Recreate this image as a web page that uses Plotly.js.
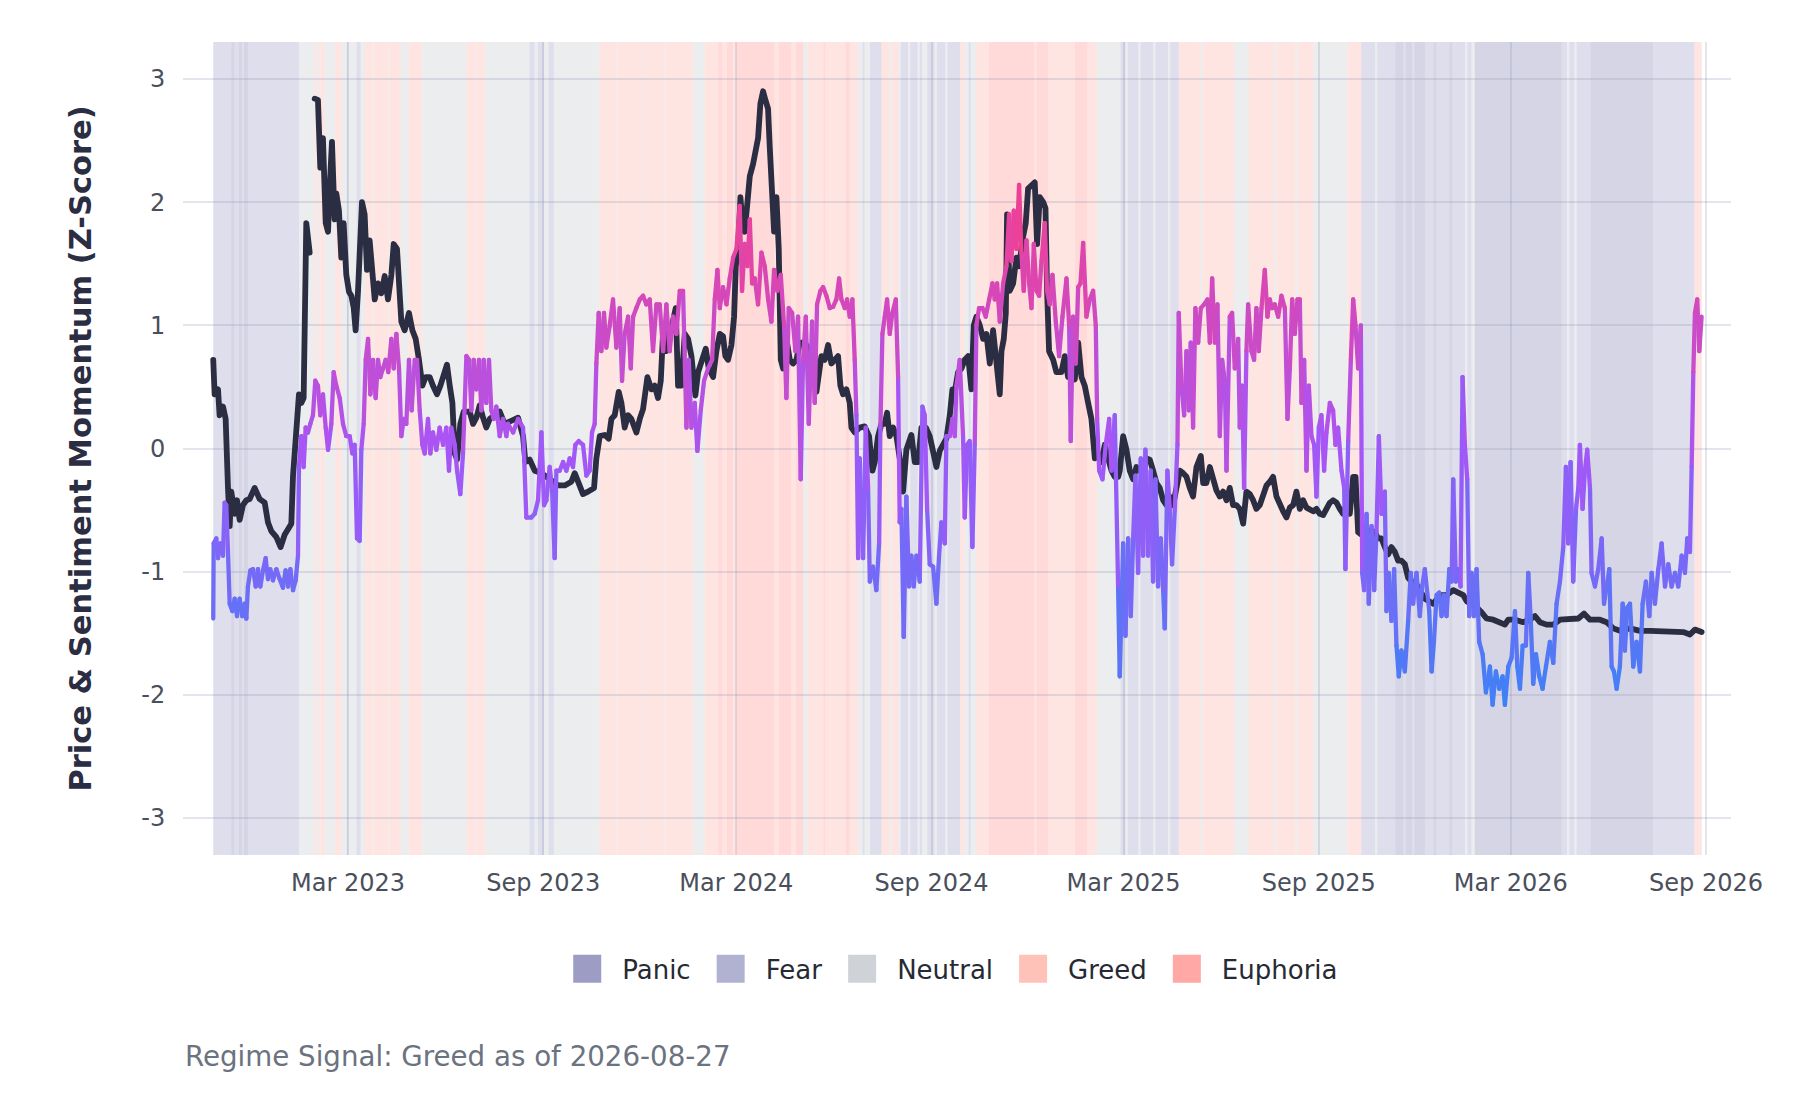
<!DOCTYPE html>
<html>
<head>
<meta charset="utf-8">
<script src="https://cdn.plot.ly/plotly-3.0.1.min.js"></script>
<style>
  html, body { margin: 0; padding: 0; background: #fff; }
  #chart { width: 1800px; height: 1100px; }
  .scatterlayer .js-line { stroke-linecap: round; stroke-linejoin: round; }
</style>
</head>
<body>
<div id="chart"></div>
<script>
// day offsets are counted from 2022-10-25 (first observation)
const START = Date.UTC(2022, 9, 25);

// price momentum (z-score), null = missing stretch
const priceDay = [0,1.3,4.5,6.0,9.2,11.7,13.9,15.5,17.0,20.2,22.4,24.9,28.0,31.2,34.3,39.0,43.7,48.5,51.6,54.7,59.5,63.5,67.3,70.5,73.6,75.2,78.3,80.8,83.0,85.2,87.7,90.9,93,
  95.6,98.7,100.9,103.4,106.0,108.2,109.7,111.9,114.4,116.0,118.5,120.7,122.9,125.4,128.0,130.2,132.4,134.2,136.4,138.0,140.2,142.7,144.9,147.4,150.0,152.2,155.3,158.4,161.6,164.7,167.9,170.1,173.2,175.1,177.3,180.4,184.5,187.7,190.8,193.9,197.1,200.2,204.0,207.1,210.9,214.1,217.2,220.3,222.9,225.4,227.6,229.8,232.9,236.1,241.7,244.9,248.0,251.1,254.3,257.4,260.6,265.3,270.0,274.7,
  279.4,287.3,292.0,294.2,298.3,303.0,309.3,314.0,318.7,325.0,331.3,337.5,340.7,344.5,348.5,353.3,358.9,361.1,364.3,369.0,372.7,375.3,378.4,382.2,384.7,387.8,391.0,394.1,398.8,402.0,405.1,409.2,413.0,416.1,419.2,421.8,424.3,427.1,430.2,433.4,435.9,438.1,441.2,444.4,447.5,450.7,454.4,457.0,460.7,464.2,467.0,471.1,474.2,477.4,480.5,482.7,485.2,488.4,490.9,492.5,494.7,496.9,498.7,500.9,503.5,505.7,508.8,511.0,513.5,515.7,518.2,520.4,522.9,524.5,526.1,528.6,530.8,533.0,534.9,537.1,540.2,543.4,546.5,549.7,552.8,557.5,562.2,566.9,
  568.5,573.2,576.3,579.5,582.6,585.8,588.9,591.1,593.6,596.8,599.9,601.5,604.6,609.3,614.0,618.1,621.3,623.5,626.6,629.8,632.9,635.1,637.6,640.8,643.9,647.0,650.2,653.3,658.0,661.2,664.3,667.5,671.6,675.3,678.5,681.6,684.7,687.9,691.0,694.2,696.7,698.9,702.0,705.2,708.3,711.5,714.6,716.8,719.3,722.5,725.6,728.7,731.9,735.0,738.2,741.3,742.9,745.1,747.0,748.2,750.7,753.9,757.0,759.5,763.3,765.8,768.0,771.2,774.3,776.5,779.0,782.2,784.4,785.9,787.8,791.6,794.7,799.4,802.6,805.7,808.9,812.0,815.2,818.3,821.4,824.6,827.7,830.9,834.0,837.2,840.3,843.4,846.6,849.7,852.9,
  854.4,857.6,860.7,863.8,867.0,870.1,873.3,876.4,879.6,882.7,885.8,889.0,892.1,895.3,898.4,901.5,904.7,907.8,911.0,914.1,917.3,920.4,923.5,926.7,930.8,933.0,936.1,939.3,942.4,945.5,948.7,951.8,955.0,958.1,961.2,964.4,967.5,970.7,973.8,977.0,980.1,983.2,986.4,989.5,992.7,995.8,998.9,1002.1,1005.2,1008.4,1011.5,1014.7,1017.8,1020.9,1024.1,1027.2,1030.4,1033.5,1036.7,1039.8,1042.9,1046.1,1049.2,1052.4,1055.5,1058.7,1061.8,1064.9,1068.1,1071.2,1074.4,1076.6,1079.1,1082.2,1085.4,1088.5,1091.7,1094.8,1097.9,1101.1,1104.2,1107.4,1110.5,1113.7,1116.8,1119.9,1123.1,1126.2,1129.4,1132.5,1137.2,
  1142.0,1149.9,1156.2,1162.4,1168.7,1173.4,1178.2,1181.3,1186.0,1190.7,1195.4,1200.1,1206.4,1212.7,1217.4,1220.6,1226.9,1234.7,1241.0,1245.7,1250.4,1256.7,1263.0,1269.3,1278.7,1286.6,1291.9,1297.6,1307.0,1313.3,1319.6,1325.8,1335.3,1344.7,1354.1,1363.5,1371.4,1379.3,1385.5,1391.8,1396.5,1402.8];
const priceVal = [0.72,0.44,0.48,0.27,0.34,0.24,-0.32,-0.63,-0.35,-0.53,-0.42,-0.58,-0.46,-0.42,-0.41,-0.32,-0.41,-0.44,-0.60,-0.67,-0.72,-0.80,-0.70,-0.65,-0.61,-0.22,0.20,0.44,0.37,0.41,1.83,1.59,null,
  2.84,2.83,2.28,2.52,1.83,1.76,2.11,2.49,1.86,2.07,1.93,1.55,1.83,1.41,1.27,1.24,1.14,0.96,1.27,1.55,2.00,1.90,1.45,1.69,1.41,1.21,1.34,1.26,1.40,1.21,1.41,1.66,1.62,1.34,1.03,0.96,1.10,0.96,0.89,0.72,0.51,0.58,0.58,0.51,0.44,0.51,0.58,0.68,0.51,0.37,-0.04,-0.09,0.20,0.30,0.30,0.20,0.25,0.35,0.25,0.17,0.24,0.27,0.30,0.20,
  0.22,0.25,0.10,-0.11,-0.09,-0.18,-0.20,-0.23,-0.25,-0.30,-0.30,-0.27,-0.20,-0.28,-0.37,-0.35,-0.32,-0.08,0.10,0.11,0.08,0.24,0.27,0.46,0.37,0.17,0.27,0.24,0.13,0.24,0.32,0.58,0.48,0.51,0.41,0.55,1.00,0.79,0.93,1.07,1.14,0.51,0.51,0.93,0.89,0.75,0.43,0.62,0.72,0.81,0.65,0.58,0.79,0.93,0.91,0.75,0.72,0.84,1.07,1.48,1.62,2.04,1.83,1.76,2.00,2.21,2.31,2.42,2.52,2.80,2.90,2.83,2.76,2.45,2.07,1.76,2.04,1.62,0.72,0.65,0.89,0.72,0.69,0.72,0.86,0.86,0.79,0.75,
  0.46,0.75,0.72,0.84,0.69,0.72,0.75,0.51,0.44,0.48,0.37,0.17,0.13,0.17,0.18,0.10,-0.18,-0.11,0.10,0.20,0.20,0.29,0.10,0.17,0.10,-0.08,-0.35,-0.01,0.11,-0.11,-0.11,0.17,0.17,0.10,-0.01,-0.15,-0.02,0.03,0.08,0.27,0.48,0.46,0.62,0.65,0.72,0.75,0.48,1.00,1.07,1.00,0.89,0.93,0.69,0.96,0.65,0.44,0.79,0.89,1.10,1.90,1.28,1.34,1.55,1.48,1.72,1.83,2.11,2.14,2.16,1.66,2.04,2.00,1.95,1.28,0.79,0.72,0.62,0.62,0.75,0.58,0.65,0.56,0.86,0.58,0.51,0.37,0.24,-0.08,-0.04,-0.11,0.03,-0.08,-0.18,-0.23,-0.23,
  -0.18,0.10,-0.01,-0.18,-0.25,-0.15,-0.18,-0.18,-0.08,-0.09,-0.18,-0.28,-0.32,-0.42,-0.46,-0.39,-0.46,-0.32,-0.18,-0.20,-0.23,-0.32,-0.39,-0.15,-0.06,-0.28,-0.28,-0.15,-0.25,-0.34,-0.39,-0.35,-0.42,-0.32,-0.46,-0.46,-0.49,-0.61,-0.35,-0.37,-0.42,-0.49,-0.46,-0.39,-0.30,-0.27,-0.23,-0.39,-0.46,-0.51,-0.56,-0.48,-0.46,-0.35,-0.49,-0.42,-0.48,-0.49,-0.51,-0.49,-0.53,-0.54,-0.49,-0.44,-0.42,-0.44,-0.49,-0.53,-0.46,-0.53,-0.23,-0.23,-0.68,-0.70,-0.70,-0.67,-0.67,-0.68,-0.73,-0.73,-0.80,-0.86,-0.80,-0.84,-0.91,-0.91,-0.94,-1.05,-1.08,-1.08,-1.15,
  -1.22,-1.26,-1.19,-1.19,-1.15,-1.17,-1.19,-1.24,-1.26,-1.29,-1.33,-1.38,-1.39,-1.41,-1.43,-1.39,-1.39,-1.41,-1.39,-1.36,-1.41,-1.43,-1.43,-1.39,-1.38,-1.38,-1.34,-1.39,-1.39,-1.41,-1.46,-1.48,-1.46,-1.48,-1.48,-1.48,-1.49,-1.49,-1.49,-1.51,-1.47,-1.49];

// sentiment momentum (z-score)
const sentDay = [0.0,0.4,2.9,4.5,6.7,9.2,10.7,12.3,13.9,15.5,18.0,20.2,22.4,24.9,27.4,29.6,31.2,32.7,35.0,37.5,40.0,42.2,44.4,46.9,49.4,51.6,53.8,56.3,59.5,62.6,65.7,68.2,70.5,72.7,75.2,77.7,79.9,80.8,83.0,85.2,87.1,89.3,91.5,94.0,96.2,98.7,100.9,103.4,106.0,108.2,111.3,113.5,116.0,119.2,122.3,125.4,128.6,131.1,133.3,135.5,138.0,139.6,141.8,143.7,145.9,148.1,150.6,153.1,155.3,157.5,160.0,162.5,165.0,167.9,170.1,172.6,175.1,177.3,179.5,182.0,184.5,187.0,189.9,192.1,194.6,197.1,199.3,202.4,204.6,207.1,210.3,213.4,216.6,219.7,222.2,224.4,227.6,229.8,232.9,235.4,238.6,241.1,243.3,245.5,248.0,250.5,252.7,254.9,257.4,259.9,262.1,264.3,266.8,270.0,273.1,276.3,
  277.8,282.6,287.3,292.0,295.1,299.8,303.0,306.1,309.3,311.8,314.0,317.1,319.3,321.8,323.4,326.5,329.7,332.8,336.0,339.1,341.3,344.5,348.5,351.7,354.8,357.0,359.5,361.1,363.3,365.8,368.3,370.5,373.7,376.8,380.0,383.1,385.3,387.8,391.0,393.5,395.7,398.8,402.0,405.1,408.2,411.4,414.5,417.7,420.8,424.0,427.1,430.2,433.4,436.5,439.7,442.8,446.0,448.2,450.7,453.8,456.3,459.5,462.6,466.4,470.2,472.7,475.2,477.4,480.5,483.7,486.8,490.0,493.1,496.2,498.4,500.9,503.5,505.7,507.9,510.4,513.5,516.7,519.8,523.0,526.1,528.6,531.7,534.9,538.0,540.2,542.4,545.6,548.7,551.2,553.7,555.9,558.5,561.3,564.4,
  566.9,569.1,572.3,574.8,577.9,581.1,584.2,587.3,589.9,592.1,595.2,597.4,599.9,602.4,604.6,606.2,607.8,609.3,612.5,615.0,617.2,618.8,621.9,625.0,627.6,628.8,630.7,632.9,635.1,637.6,640.1,643.3,645.5,647.0,648.6,650.8,653.3,655.8,658.0,660.2,662.8,665.9,668.4,670.6,672.8,675.3,678.5,681.6,684.1,686.3,689.5,691.0,694.2,696.7,698.9,700.5,703.6,706.7,708.3,710.5,713.0,715.5,717.7,719.3,721.8,725.0,728.1,731.3,734.4,736.6,738.8,741.3,744.5,747.6,750.1,752.3,754.5,757.0,759.5,761.7,763.9,766.5,769.0,771.2,773.4,775.9,778.4,780.6,783.7,785.9,788.4,791.0,794.1,797.2,800.4,804.2,806.7,808.2,810.4,813.0,815.2,817.4,819.9,823.0,826.2,829.3,831.8,833.1,835.0,838.1,841.2,844.4,846.6,849.7,852.9,854.4,
  857.6,859.8,862.3,864.8,867.0,869.2,871.7,874.2,876.4,878.6,881.1,883.6,885.8,888.0,890.5,893.1,895.3,896.8,899.3,901.5,903.7,906.3,908.8,910.0,912.5,915.1,917.3,919.5,921.3,923.5,925.7,928.3,930.8,933.9,937.1,939.3,941.5,944.0,946.5,948.7,950.9,953.4,955.0,958.1,960.3,962.8,966.0,967.5,969.7,971.6,973.8,975.4,978.5,981.0,983.2,985.4,988.0,991.1,993.6,995.8,998.0,1000.5,1003.7,1006.8,1010.0,1012.5,1014.7,1016.9,1019.4,1021.9,1024.1,1025.7,1028.2,1030.4,1032.6,1035.1,1037.6,1039.8,1042.0,1044.5,1047.0,1049.2,1052.4,1055.5,1057.7,1060.2,1063.4,1065.9,1067.1,1069.7,1072.2,1074.4,1076.6,1079.1,1081.6,1082.9,1084.7,1087.0,1089.1,1091.7,1094.2,1096.4,1098.6,1101.1,1104.2,1105.8,1108.0,1110.5,1113.0,1115.2,1117.4,1119.9,1123.1,1126.2,1128.7,1130.9,1134.1,1137.2,1139.4,1141.9,
  1146.1,1148.3,1150.5,1153.0,1155.5,1157.7,1159.9,1162.4,1165.0,1167.2,1168.7,1171.2,1173.4,1175.6,1177.5,1179.7,1181.9,1183.8,1186.0,1188.2,1190.7,1193.2,1196.4,1199.5,1203.3,1205.8,1208.9,1212.1,1215.2,1217.4,1220.6,1223.7,1226.9,1229.1,1231.6,1234.1,1237.2,1239.4,1241.6,1244.1,1246.7,1249.8,1252.9,1256.1,1259.8,1263.0,1266.1,1269.3,1272.4,1274.9,1277.1,1279.3,1281.8,1284.4,1286.6,1288.1,1290.6,1292.8,1295.0,1297.6,1299.1,1302.3,1305.4,1308.6,1310.8,1313.3,1315.8,1318.0,1320.2,1322.7,1325.8,1328.4,1330.5,1332.8,1335.3,1338.4,1341.5,1344.7,1347.2,1350.3,1353.5,1355.7,1358.8,1362.0,1365.1,1368.3,1371.4,1374.5,1377.7,1380.8,1384.0,1387.1,1389.3,1391.8,1393.4,1395.0,1396.5,1398.7,1400.6,1402.8];
const sentVal = [-1.38,-0.77,-0.73,-0.89,-0.77,-0.87,-0.44,-0.46,-0.84,-1.26,-1.32,-1.22,-1.36,-1.22,-1.36,-1.26,-1.38,-1.12,-0.99,-0.98,-1.12,-0.98,-1.12,-0.99,-0.89,-1.06,-0.98,-1.07,-0.98,-1.06,-1.13,-0.99,-1.12,-0.98,-1.15,-1.07,-0.87,-0.15,0.10,-0.15,0.17,0.13,0.20,0.27,0.55,0.51,0.27,0.44,0.17,-0.01,0.20,0.62,0.51,0.41,0.20,0.10,0.10,-0.04,0.03,-0.73,-0.75,-0.01,0.20,0.72,0.89,0.44,0.72,0.41,0.72,0.58,0.65,0.72,0.62,0.89,0.65,0.93,0.65,0.10,0.24,0.20,0.72,0.31,0.72,0.72,0.31,0.03,-0.04,0.24,-0.04,0.13,-0.01,0.17,0.03,0.17,-0.18,0.17,0.03,-0.18,-0.37,-0.04,0.75,0.72,0.31,0.72,0.48,0.72,0.31,0.72,0.37,0.72,0.31,0.24,0.34,0.10,0.24,0.10,
  0.20,0.13,0.24,0.17,-0.56,-0.56,-0.53,-0.42,0.13,-0.46,-0.42,-0.15,-0.32,-0.89,-0.18,-0.18,-0.11,-0.18,-0.08,-0.15,0.03,0.06,0.03,-0.22,-0.18,0.13,0.20,0.69,1.10,0.79,1.10,0.82,1.00,1.21,0.82,1.14,0.55,0.93,1.07,0.65,1.07,1.14,1.21,1.24,1.17,1.21,0.79,1.17,1.17,0.79,1.17,0.79,1.07,0.93,1.28,1.28,0.17,0.72,0.17,0.37,-0.02,0.31,0.55,0.65,0.72,1.21,1.45,1.14,1.31,1.17,1.38,1.55,1.62,1.97,1.28,1.66,1.48,1.86,1.34,1.38,1.17,1.59,1.48,1.21,1.03,1.45,1.28,1.41,1.00,0.41,1.14,1.10,0.79,1.07,-0.25,0.72,1.07,0.20,1.03,
  0.37,1.17,1.28,1.31,1.24,1.14,1.15,1.21,1.38,1.21,1.14,1.21,1.07,1.21,0.72,0.27,-0.89,-0.08,-0.89,0.17,-0.32,-1.08,-0.96,-1.15,-0.77,0.17,0.93,1.07,1.21,0.93,1.10,1.21,0.58,-0.60,-0.49,-1.53,-0.39,-1.12,-0.87,-1.12,-0.87,-1.08,0.34,0.27,-0.49,-0.94,-0.96,-1.26,-0.87,-0.60,-0.77,0.10,0.10,0.24,0.10,0.51,0.72,0.10,-0.56,0.03,0.06,-0.80,0.03,1.00,1.14,1.14,1.07,1.21,1.34,1.21,1.34,1.03,1.34,1.48,1.90,1.52,1.93,1.62,2.14,1.59,1.28,1.69,1.34,1.14,1.66,1.28,1.24,1.52,1.83,1.28,1.17,1.41,1.03,0.75,1.07,1.38,1.00,0.06,1.07,0.69,1.31,1.34,1.67,1.07,1.21,1.28,1.00,0.24,-0.18,-0.25,0.03,0.24,-0.18,0.27,-1.15,-1.85,
  -0.77,-1.52,-0.73,-1.36,-0.73,-0.22,-1.01,-0.08,-0.87,-0.01,-0.87,-0.18,-1.08,-0.25,-1.12,-0.73,-1.15,-1.46,-0.18,-0.49,-0.94,-0.49,0.03,1.10,0.51,0.27,0.79,0.31,0.86,0.17,1.14,0.86,1.14,1.17,1.21,0.86,1.38,0.86,1.17,0.10,0.72,0.55,-0.18,1.07,1.10,0.65,0.89,0.17,0.51,-0.32,0.79,1.17,0.79,0.72,1.14,0.79,1.14,1.45,1.07,1.21,1.14,1.17,1.07,1.24,1.14,0.24,0.65,1.21,0.93,1.21,1.21,0.37,0.72,-0.18,0.51,0.10,0.03,-0.39,0.17,0.27,-0.18,0.13,0.37,0.31,0.03,0.17,-0.18,-0.32,-0.98,0.06,0.72,1.21,1.00,0.65,1.00,-1.01,-1.15,-0.53,-1.26,-0.63,-1.15,-0.67,0.10,-0.53,-0.35,-1.32,-1.01,-1.40,-0.98,-1.60,-1.85,-1.64,-1.81,-1.40,-1.01,-1.26,-1.01,-1.36,-1.12,-0.98,
  -1.32,-1.81,-1.57,-1.19,-1.17,-1.36,-1.19,-1.36,-0.98,-1.08,-0.25,-1.08,-0.98,-1.12,0.58,0.03,-0.25,-1.36,-1.01,-1.36,-0.98,-1.57,-1.67,-1.98,-1.77,-2.08,-1.81,-1.95,-1.85,-2.08,-1.77,-1.70,-1.32,-1.77,-1.95,-1.60,-1.60,-1.01,-1.36,-1.91,-1.67,-1.85,-1.95,-1.77,-1.57,-1.74,-1.26,-1.08,-0.80,-0.15,-0.77,-0.11,-1.08,-0.49,-0.32,0.03,-0.49,-0.18,-0.01,-0.32,-1.01,-1.12,-0.98,-0.73,-1.26,-1.12,-0.98,-1.77,-1.81,-1.95,-1.77,-1.26,-1.64,-1.29,-1.26,-1.77,-1.57,-1.81,-1.26,-1.08,-1.36,-1.01,-1.26,-0.98,-0.77,-1.12,-0.94,-1.12,-1.01,-1.12,-0.87,-1.01,-0.73,-0.84,-0.15,0.62,1.10,1.21,0.79,1.07];

// regime shading: edges (days) and the regime of each stretch between them
const regimeNames = ["Panic", "Fear", "Neutral", "Greed", "Euphoria"];
const regimeColors = ["#9c9cc4", "#b1b1d2", "#cfd3d8", "#ffc2b8", "#ffa8a5"];
const regEdges = [0,17,20,24,27,29,33,81,96,99,101,105,115,121,126,127,135,139,143,150,151,165,166,177,184,197,239,247,248,256,298,303,306,312,316,321,364,380,381,405,406,425,426,452,463,476,480,484,490,493,529,533,545,549,556,560,575,577,596,600,608,612,614,619,630,637,639,646,648,655,657,664,666,668,673,680,682,690,692,704,708,712,714,719,731,774,776,787,812,824,833,855,860,862,872,874,886,888,900,902,910,930,932,962,976,1000,1002,1020,1022,1037,1069,1082,1095,1097,1114,1122,1124,1130,1132,1142,1150,1153,1165,1168,1180,1182,1186,1189,1271,1276,1278,1283,1285,1298,1357,1396,1403];
const regType = ["Fear","Panic","Fear","Panic","Fear","Panic","Fear","Neutral","Greed","Neutral","Greed","Neutral","Greed","Neutral","Fear","Neutral","Fear","Neutral","Greed","Neutral","Greed","Neutral","Greed","Neutral","Greed","Neutral","Greed","Neutral","Greed","Neutral","Fear","Neutral","Fear","Neutral","Fear","Neutral","Greed","Neutral","Greed","Neutral","Greed","Neutral","Greed","Neutral","Greed","Euphoria","Greed","Euphoria","Greed","Euphoria","Greed","Euphoria","Greed","Euphoria","Neutral","Greed","Euphoria","Greed","Euphoria","Greed","Neutral","Fear","Neutral","Fear","Greed","Neutral","Greed","Neutral","Fear","Neutral","Fear","Neutral","Fear","Neutral","Fear","Neutral","Fear","Neutral","Fear","Greed","Neutral","Fear","Neutral","Greed","Euphoria","Greed","Euphoria","Greed","Euphoria","Greed","Neutral","Fear","Neutral","Fear","Neutral","Fear","Neutral","Fear","Neutral","Fear","Greed","Neutral","Greed","Neutral","Greed","Neutral","Greed","Neutral","Greed","Neutral","Greed","Fear","Neutral","Fear","Panic","Fear","Panic","Fear","Panic","Fear","Panic","Fear","Panic","Fear","Neutral","Fear","Neutral","Panic","Fear","Neutral","Fear","Neutral","Fear","Panic","Fear","Greed"];

const yTickVals = [-3, -2, -1, 0, 1, 2, 3];
const yTickText = ["-3", "-2", "-1", "0", "1", "2", "3"];
const xRange = ["2022-09-26 12:00", "2026-09-24 12:00"];
const signalText = "Regime Signal: Greed as of 2026-08-27";

const FONT = "DejaVu Sans, Verdana, sans-serif";
const toDate = d => d == null ? null : new Date(START + d * 864e5).toISOString().slice(0, 19).replace("T", " ");

// sentiment colour: blue (low) -> purple (0) -> pink (high)
const stops = [[-2.1, [59, 130, 246]], [0, [168, 85, 247]], [2.1, [244, 63, 142]]];
function sentColor(v) {
  v = Math.max(stops[0][0], Math.min(stops[2][0], v));
  const [a, b] = v <= 0 ? [stops[0], stops[1]] : [stops[1], stops[2]];
  const t = (v - a[0]) / (b[0] - a[0]);
  const c = a[1].map((x, i) => Math.round(x + (b[1][i] - x) * t));
  return `rgb(${c.join(",")})`;
}

// one trace per colour bin, segments split by nulls
const bins = {};
for (let i = 0; i < sentDay.length - 1; i++) {
  const k = Math.round((sentVal[i] + sentVal[i + 1]) / 2 * 10);
  if (!bins[k]) bins[k] = { x: [], y: [] };
  bins[k].x.push(toDate(sentDay[i]), toDate(sentDay[i + 1]), null);
  bins[k].y.push(sentVal[i], sentVal[i + 1], null);
}
const sentTraces = Object.keys(bins).map(k => ({
  type: "scatter", mode: "lines", x: bins[k].x, y: bins[k].y,
  line: { color: sentColor(k / 10), width: 4.3 },
  showlegend: false, hoverinfo: "skip", connectgaps: false
}));

const priceTrace = {
  type: "scatter", mode: "lines", name: "Price",
  x: priceDay.map(toDate), y: priceVal,
  line: { color: "#2b2d42", width: 5.8 },
  showlegend: false, hoverinfo: "skip", connectgaps: false
};

const legendTraces = regimeNames.map((n, i) => ({
  type: "scatter", mode: "markers", name: n, x: [null], y: [null],
  marker: { symbol: "square", size: 16, color: regimeColors[i], line: { width: 0 } },
  hoverinfo: "skip"
}));

const shapes = regType.map((r, i) => ({
  type: "rect", xref: "x", yref: "paper", layer: "below",
  x0: toDate(regEdges[i]), x1: toDate(regEdges[i + 1]), y0: 0, y1: 1,
  fillcolor: regimeColors[regimeNames.indexOf(r)], opacity: 0.42, line: { width: 0 }
}));

const grid = "rgba(140,145,175,0.24)";
const layout = {
  width: 1800, height: 1100,
  margin: { l: 183, r: 69, t: 42, b: 245 },
  paper_bgcolor: "#fff", plot_bgcolor: "#fff",
  font: { family: FONT, size: 24, color: "#4a4f5c" },
  showlegend: true,
  legend: {
    orientation: "h", x: 0.494, xanchor: "center", y: -0.14, yanchor: "middle",
    font: { family: FONT, size: 26, color: "#262a33" }, itemwidth: 60, bgcolor: "rgba(0,0,0,0)"
  },
  xaxis: {
    type: "date", range: xRange, tick0: "2023-03-01", dtick: "M6", tickformat: "%b %Y",
    showgrid: true, gridcolor: grid, gridwidth: 2, zeroline: false, showline: false,
    ticks: "outside", ticklen: 6, tickcolor: "rgba(0,0,0,0)",
    tickfont: { family: FONT, size: 24, color: "#4a4f5c" }
  },
  yaxis: {
    range: [-3.3, 3.3], tickvals: yTickVals, ticktext: yTickText,
    showgrid: true, gridcolor: grid, gridwidth: 2, zeroline: false, showline: false,
    ticks: "outside", ticklen: 12, tickcolor: "rgba(0,0,0,0)",
    tickfont: { family: FONT, size: 24, color: "#4a4f5c" },
    title: { text: "Price & Sentiment Momentum (Z-Score)", standoff: 40,
      font: { family: FONT, size: 30.5, color: "#2b2d42", weight: "bold" } }
  },
  shapes,
  annotations: [{
    xref: "paper", yref: "paper", x: 0, y: -0.248, xanchor: "left", yanchor: "middle",
    text: signalText, showarrow: false, font: { family: FONT, size: 27.7, color: "#6b7280" }
  }]
};

// enlarge the legend swatches (plotly caps legend marker size)
function bigSwatches() {
  document.querySelectorAll("#chart .legend .scatterpts").forEach(p => {
    const t = (p.getAttribute("transform") || "").replace(/\s*scale\([^)]*\)/, "");
    p.setAttribute("transform", t + " scale(1.75)");
  });
}

Plotly.newPlot("chart", [priceTrace, ...sentTraces, ...legendTraces], layout, { displayModeBar: false, responsive: false })
  .then(bigSwatches);
</script>
</body>
</html>
